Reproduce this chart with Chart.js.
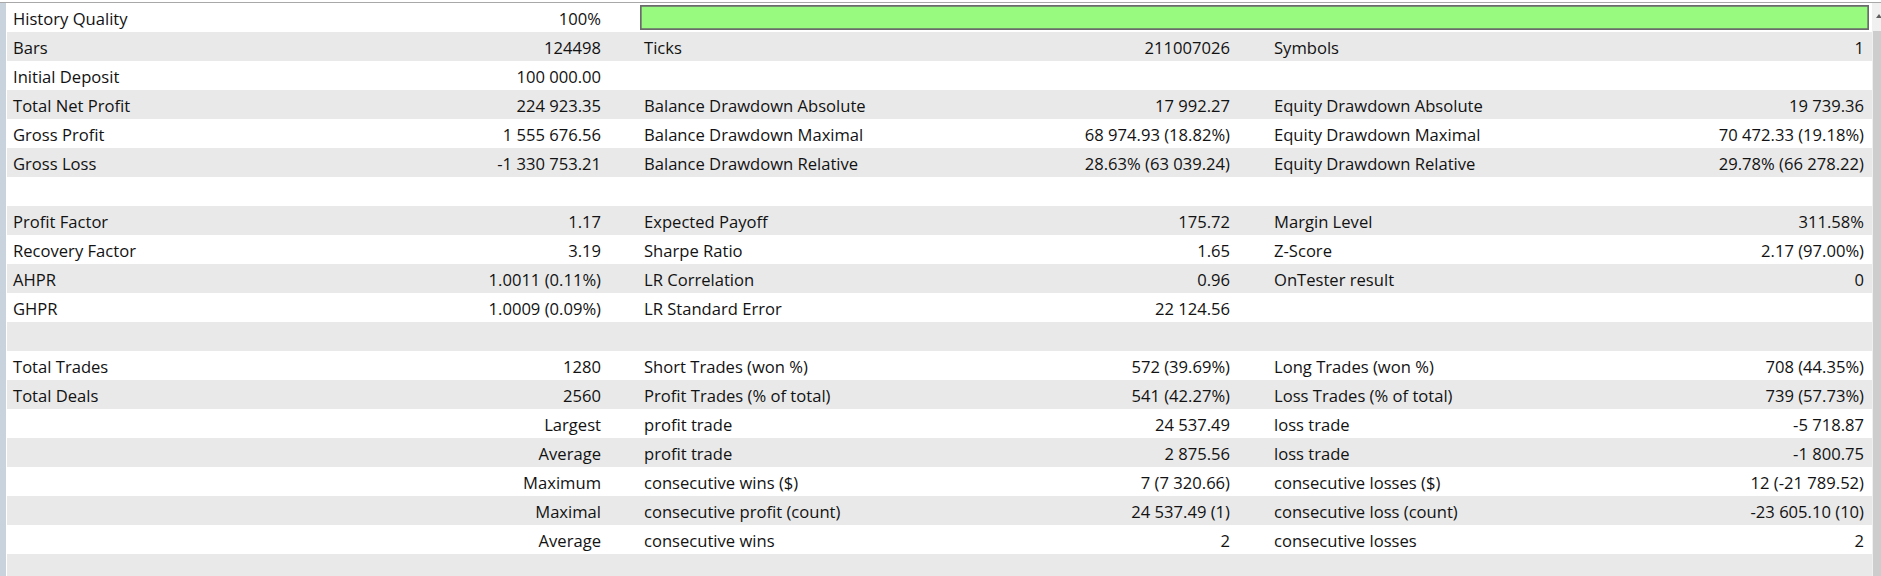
<!DOCTYPE html>
<html>
<head>
<meta charset="utf-8">
<script src="https://cdn.jsdelivr.net/npm/chart.js@4/dist/chart.umd.min.js"></script>
<style>
  html, body { margin:0; padding:0; background:#ffffff; }
  body { width:1881px; height:576px; overflow:hidden; position:relative;
         font-family:"Open Sans", "Noto Sans", sans-serif; font-size:16.6px; color:#121212; }
  #topline { position:absolute; left:0; top:2px; width:1881px; height:1px; background:#a8a8a8; }
  #leftstrip { position:absolute; left:0; top:3px; width:6px; height:573px; background:#c9d3de; }
  .row { position:absolute; left:7px; width:1865px; height:29px; }
  .row.grey { background:#e9e9e9; }
  .cell { position:absolute; top:1px; height:29px; line-height:29px; white-space:nowrap; }
  .l1 { left:6px; }
  .v1 { left:0; width:594px; text-align:right; }
  .l2 { left:637px; }
  .v2 { left:0; width:1223px; text-align:right; }
  .l3 { left:1267px; }
  .v3 { left:0; width:1857px; text-align:right; }
  #qwrap { position:absolute; left:640px; top:5px; width:1229px; height:25px; }
  #scroll { position:absolute; left:1872px; top:3px; width:9px; height:573px; background:#f0f0f0; }
  #thumb { position:absolute; left:1873px; top:31px; width:8px; height:545px; background:#cdcdcd; }
  #arrow { position:absolute; left:1876px; top:14px; width:0; height:0;
           border-left:3px solid transparent; border-right:3px solid transparent; border-bottom:4px solid #606060; }
</style>
</head>
<body>
<div id="topline"></div>
<div id="leftstrip"></div>
<div id="rows"></div>
<div id="qwrap"><canvas id="quality"></canvas></div>
<div id="scroll"></div>
<div id="thumb"></div>
<div id="arrow"></div>
<script>
// ---- Data ----
const col1Labels = ["History Quality","Bars","Initial Deposit","Total Net Profit","Gross Profit","Gross Loss","",
  "Profit Factor","Recovery Factor","AHPR","GHPR","",
  "Total Trades","Total Deals","","","","","",""];
const col1Values = ["100%","124498","100 000.00","224 923.35","1 555 676.56","-1 330 753.21","",
  "1.17","3.19","1.0011 (0.11%)","1.0009 (0.09%)","",
  "1280","2560","Largest","Average","Maximum","Maximal","Average",""];
const col2Labels = ["","Ticks","","Balance Drawdown Absolute","Balance Drawdown Maximal","Balance Drawdown Relative","",
  "Expected Payoff","Sharpe Ratio","LR Correlation","LR Standard Error","",
  "Short Trades (won %)","Profit Trades (% of total)","profit trade","profit trade","consecutive wins ($)","consecutive profit (count)","consecutive wins",""];
const col2Values = ["","211007026","","17 992.27","68 974.93 (18.82%)","28.63% (63 039.24)","",
  "175.72","1.65","0.96","22 124.56","",
  "572 (39.69%)","541 (42.27%)","24 537.49","2 875.56","7 (7 320.66)","24 537.49 (1)","2",""];
const col3Labels = ["","Symbols","","Equity Drawdown Absolute","Equity Drawdown Maximal","Equity Drawdown Relative","",
  "Margin Level","Z-Score","OnTester result","","",
  "Long Trades (won %)","Loss Trades (% of total)","loss trade","loss trade","consecutive losses ($)","consecutive loss (count)","consecutive losses",""];
const col3Values = ["","1","","19 739.36","70 472.33 (19.18%)","29.78% (66 278.22)","",
  "311.58%","2.17 (97.00%)","0","","",
  "708 (44.35%)","739 (57.73%)","-5 718.87","-1 800.75","12 (-21 789.52)","-23 605.10 (10)","2",""];

const qualityLabels = ["History Quality"];
const qualityValues = [100];

// ---- Table ----
const rowsEl = document.getElementById('rows');
const ROW_TOP = 3, ROW_H = 29;
for (let i = 0; i < col1Labels.length; i++) {
  const r = document.createElement('div');
  r.className = 'row' + (i % 2 === 1 ? ' grey' : '');
  r.style.top = (ROW_TOP + ROW_H * i) + 'px';
  const cells = [['l1', col1Labels[i]], ['v1', col1Values[i]], ['l2', col2Labels[i]],
                 ['v2', col2Values[i]], ['l3', col3Labels[i]], ['v3', col3Values[i]]];
  for (const [cls, txt] of cells) {
    if (!txt) continue;
    const c = document.createElement('div');
    c.className = 'cell ' + cls;
    c.textContent = txt;
    r.appendChild(c);
  }
  rowsEl.appendChild(r);
}

// ---- Quality bar (Chart.js) ----
new Chart(document.getElementById('quality'), {
  type: 'bar',
  data: {
    labels: qualityLabels,
    datasets: [{
      data: qualityValues,
      backgroundColor: 'rgb(152,251,128)',
      borderColor: '#6a6a6a',
      borderWidth: 2,
      borderSkipped: false,
      barPercentage: 1,
      categoryPercentage: 1
    }]
  },
  options: {
    indexAxis: 'y',
    responsive: true,
    maintainAspectRatio: false,
    animation: false,
    layout: { padding: 0 },
    plugins: { legend: { display: false }, tooltip: { enabled: false } },
    scales: {
      x: { display: false, min: 0, max: 100, grid: { display: false } },
      y: { display: false, grid: { display: false } }
    }
  }
});
</script>
</body>
</html>
